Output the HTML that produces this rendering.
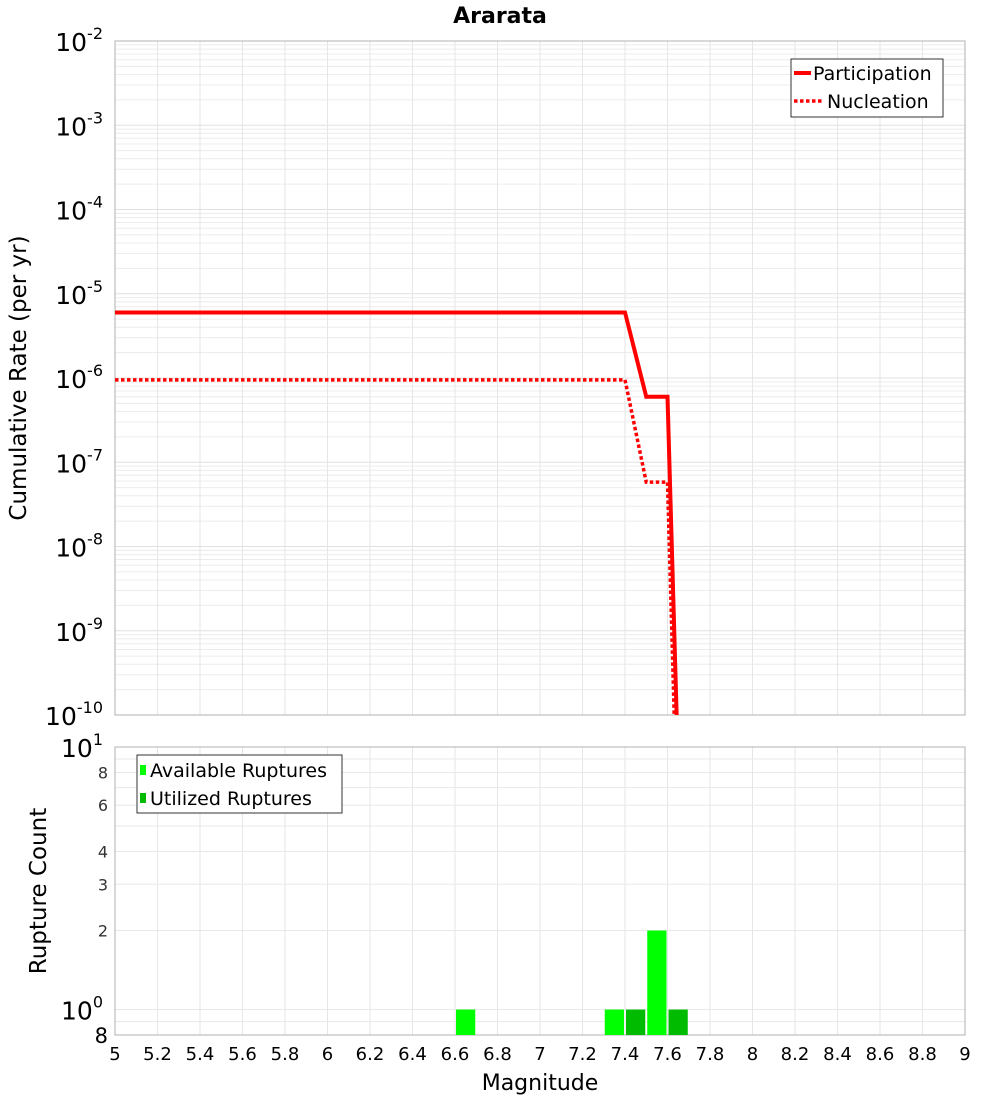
<!DOCTYPE html>
<html><head><meta charset="utf-8"><style>
html,body{margin:0;padding:0;background:#fff;overflow:hidden;width:1000px;height:1100px;font-family:"Liberation Sans","DejaVu Sans",sans-serif}
svg{display:block}
svg text{font-family:"DejaVu Sans","Liberation Sans",sans-serif}
</style></head><body>
<svg id="c" width="1000" height="1100" xmlns="http://www.w3.org/2000/svg"></svg>
<script>
const mags=[5,7.4,7.5,7.6,7.7];
const partRates=[6e-6,6e-6,6e-7,6e-7,1e-15];
const nuclRates=[9.5e-7,9.5e-7,5.8e-8,5.8e-8,1e-16];
const availMags=[6.65,7.35,7.55];
const availCounts=[1,1,2];
const utilMags=[7.45,7.65];
const utilCounts=[1,1];
const xTicks=[5,5.2,5.4,5.6,5.8,6,6.2,6.4,6.6,6.8,7,7.2,7.4,7.6,7.8,8,8.2,8.4,8.6,8.8,9];
const topExps=[-2,-3,-4,-5,-6,-7,-8,-9,-10];
const botTicks=[8,6,4,3,2];

const NS="http://www.w3.org/2000/svg";
const svg=document.getElementById('c');
function el(t,a,p){const e=document.createElementNS(NS,t);for(const k in a)e.setAttribute(k,a[k]);(p||svg).appendChild(e);return e;}
const L=115,R=965,T1=41,B1=715,T2=747,B2=1035;
const X=m=>L+(m-5)/4*(R-L);
const Y1=v=>T1+(-2-Math.log10(v))*(B1-T1)/8;
const Y2=v=>T2+(1-Math.log10(v))*(B2-T2)/(1-Math.log10(0.8));

const g1=el('g',{});

for(let e=-10;e<-2;e++)for(let k=1;k<10;k++){const y=Y1(k*Math.pow(10,e));el('line',{x1:L,x2:R,y1:y,y2:y,stroke:k==1?'#e0e0e0':'#ececec','stroke-width':1},g1);}
for(let m=5;m<=9.001;m+=0.2){const x=X(m);el('line',{x1:x,x2:x,y1:T1,y2:B1,stroke:'#e6e6e6'},g1);el('line',{x1:x,x2:x,y1:T2,y2:B2,stroke:'#e6e6e6'},g1);}
for(let e=-1;e<1;e++)for(let k=1;k<10;k++){const v=k*Math.pow(10,e);if(v<0.8)continue;const y=Y2(v);el('line',{x1:L,x2:R,y1:y,y2:y,stroke:'#e8e8e8'},g1);}
el('rect',{x:L,y:T1,width:R-L,height:B1-T1,fill:'none',stroke:'#b0b0b0'});
el('rect',{x:L,y:T2,width:R-L,height:B2-T2,fill:'none',stroke:'#b0b0b0'});

let t=el('text',{x:500,y:23,'font-size':22,'font-weight':'bold','text-anchor':'middle'});t.textContent='Ararata';


const defs=el('defs',{});const cp=el('clipPath',{id:'cp1'},defs);el('rect',{x:L,y:T1,width:R-L,height:B1-T1},cp);
function pts(r){return mags.map((m,i)=>X(m)+','+Y1(r[i])).join(' ');}
const pl=el('polyline',{points:pts(partRates),fill:'none',stroke:'#f00','stroke-width':4,'clip-path':'url(#cp1)'});

const nl=el('polyline',{points:pts(nuclRates),fill:'none',stroke:'#f00','stroke-width':3.5,'stroke-dasharray':'3.5,2.5','clip-path':'url(#cp1)'});


topExps.forEach(e=>{const y=Y1(Math.pow(10,e));const tx=el('text',{x:103,y:y+10,'font-size':25,'text-anchor':'end'});

tx.innerHTML='10<tspan dy="-12" font-size="16">'+e+'</tspan>';});
t=el('text',{x:0,y:0,'font-size':23,'text-anchor':'middle',transform:'translate(26,378) rotate(-90)'});t.textContent='Cumulative Rate (per yr)';


const lg=el('g',{});
el('rect',{x:791,y:59,width:152,height:58,fill:'#fff',stroke:'#333'},lg);
el('line',{x1:794,x2:811,y1:73,y2:73,stroke:'#f00','stroke-width':4},lg);
el('line',{x1:794,x2:822,y1:101,y2:101,stroke:'#f00','stroke-width':3.5,'stroke-dasharray':'3.5,2.5'},lg);
t=el('text',{x:813,y:80,'font-size':19},lg);t.textContent='Participation';
t=el('text',{x:827,y:108,'font-size':19},lg);t.textContent='Nucleation';

function bars(ms,cs,col,name){ms.forEach((m,i)=>{const r=el('rect',{x:X(m-0.05)+1,y:Y2(cs[i]),width:X(m+0.05)-X(m-0.05)-2,height:B2-Y2(cs[i]),fill:col});
});}
bars(availMags,availCounts,'#00ff00','available-bar');
bars(utilMags,utilCounts,'#00bb00','utilized-bar');

t=el('text',{x:103,y:Y2(10)+10,'font-size':25,'text-anchor':'end'});t.innerHTML='10<tspan dy="-12" font-size="16">1</tspan>';

t=el('text',{x:103,y:Y2(1)+10,'font-size':25,'text-anchor':'end'});t.innerHTML='10<tspan dy="-12" font-size="16">0</tspan>';

botTicks.forEach(v=>{const tx=el('text',{x:108,y:Y2(v)+6,'font-size':16,'text-anchor':'end',fill:'#333'});tx.textContent=v;
});
t=el('text',{x:108,y:1043,'font-size':21,'text-anchor':'end'});t.textContent='8';
t=el('text',{x:0,y:0,'font-size':23,'text-anchor':'middle',transform:'translate(46,891) rotate(-90)'});t.textContent='Rupture Count';


const lg2=el('g',{});
el('rect',{x:137,y:755,width:205,height:58,fill:'#fff',stroke:'#333'},lg2);
el('rect',{x:140,y:765,width:6,height:10,fill:'#00ff00'},lg2);
el('rect',{x:140,y:793,width:6,height:10,fill:'#00bb00'},lg2);
t=el('text',{x:150,y:777,'font-size':19},lg2);t.textContent='Available Ruptures';
t=el('text',{x:150,y:805,'font-size':19},lg2);t.textContent='Utilized Ruptures';

xTicks.forEach(m=>{const tx=el('text',{x:X(m),y:1060,'font-size':18,'text-anchor':'middle'});tx.textContent=String(m);
});
t=el('text',{x:540,y:1090,'font-size':22,'text-anchor':'middle'});t.textContent='Magnitude';

</script>
</body></html>
